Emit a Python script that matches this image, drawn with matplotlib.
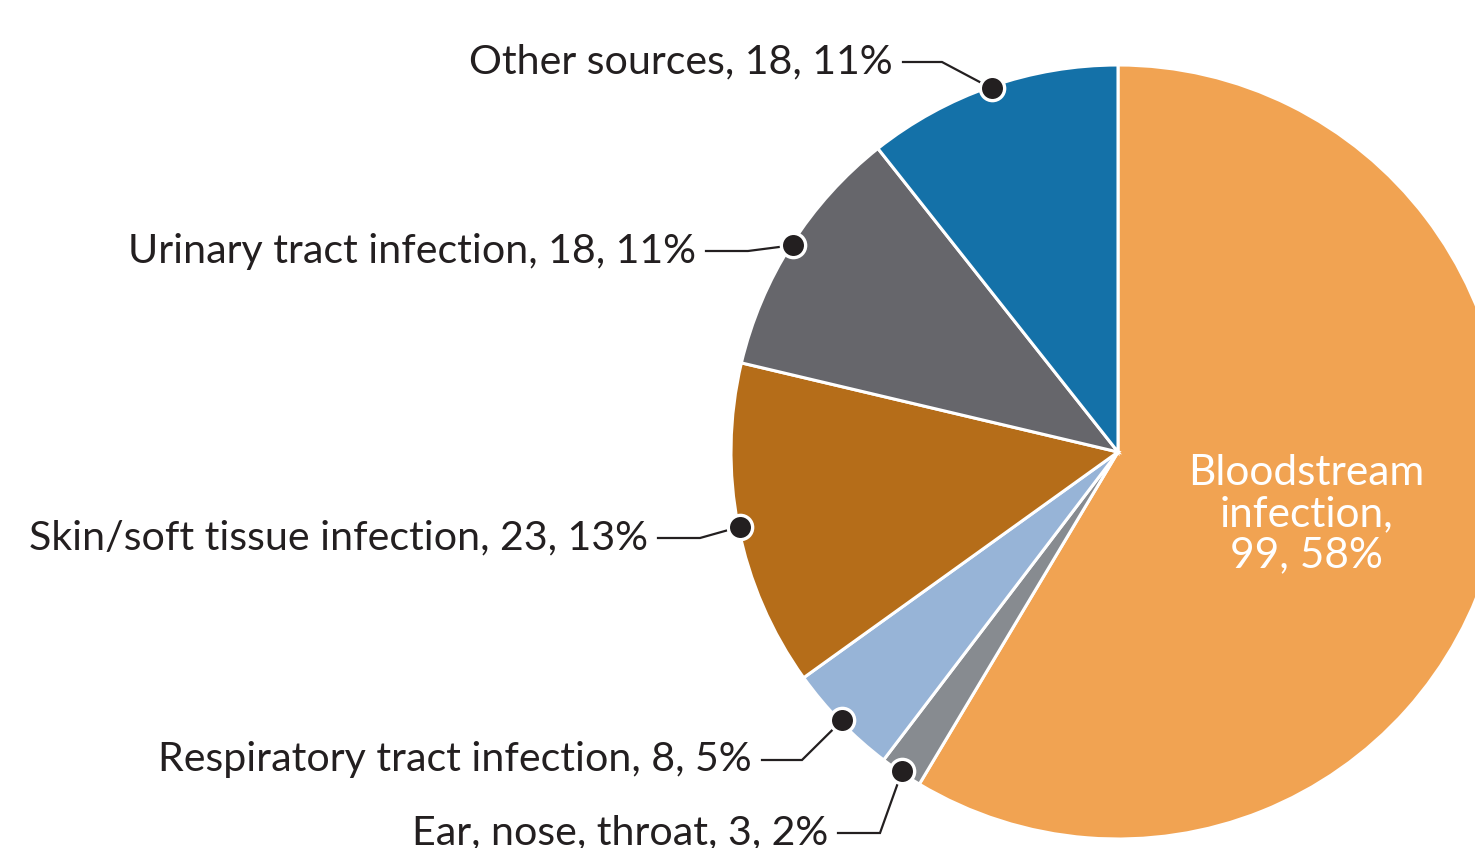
import numpy as np
import matplotlib
matplotlib.use("Agg")
import matplotlib.pyplot as plt

# ---- data ----
categories = ["Bloodstream infection", "Ear, nose, throat", "Respiratory tract infection",
              "Skin/soft tissue infection", "Urinary tract infection", "Other sources"]
counts = [99, 3, 8, 23, 18, 18]
percents = [58, 2, 5, 13, 11, 11]
colors = ["#F1A352", "#878B90", "#97B4D7", "#B56D19", "#66666B", "#1471A8"]

W, H = 1475, 848
fig = plt.figure(figsize=(W / 100, H / 100), dpi=100)
ax = fig.add_axes([0, 0, 1, 1])
plt.rcParams['font.family'] = ['Lato', 'DejaVu Sans']

cx, cy, R = 1118, H - 452, 387
wedges, _ = ax.pie(counts, colors=colors, startangle=90, counterclock=False,
                   center=(cx, cy), radius=R,
                   wedgeprops=dict(edgecolor="white", linewidth=2.2))
ax.set_xlim(0, W)
ax.set_ylim(0, H)
ax.set_aspect("equal")
ax.axis("off")

ink = "#231F20"
fs = 29.6

# label layout: (elbow x, elbow y), horizontal end x, in pixel coords (y down)
layout = {
    "Other sources": ((942, 62), 903),
    "Urinary tract infection": ((748, 251), 706),
    "Skin/soft tissue infection": ((700, 538), 658),
    "Respiratory tract infection": ((802, 760), 762),
    "Ear, nose, throat": ((880, 833), 838),
}

for w, cat, n, p in zip(wedges, categories, counts, percents):
    mid = np.deg2rad((w.theta1 + w.theta2) / 2)
    if cat == "Bloodstream infection":
        ax.text(1306, H - 514, f"Bloodstream\ninfection,\n{n}, {p}%", color="white",
                fontsize=30.5, ha="center", va="center", linespacing=1.1)
        continue
    dx = cx + 0.995 * R * np.cos(mid)
    dy = cy + 0.995 * R * np.sin(mid)
    (ex, ey), hx = layout[cat]
    ax.plot([dx, ex, hx], [dy, H - ey, H - ey], color=ink, lw=1.6,
            solid_joinstyle="miter", zorder=5)
    ax.plot([dx], [dy], "o", ms=17.5, color=ink, mec="white", mew=2.4, zorder=6)
    ax.text(hx - 10, H - ey, f"{cat}, {n}, {p}%", color=ink, fontsize=fs,
            ha="right", va="center")

fig.savefig("out.png", dpi=100)
